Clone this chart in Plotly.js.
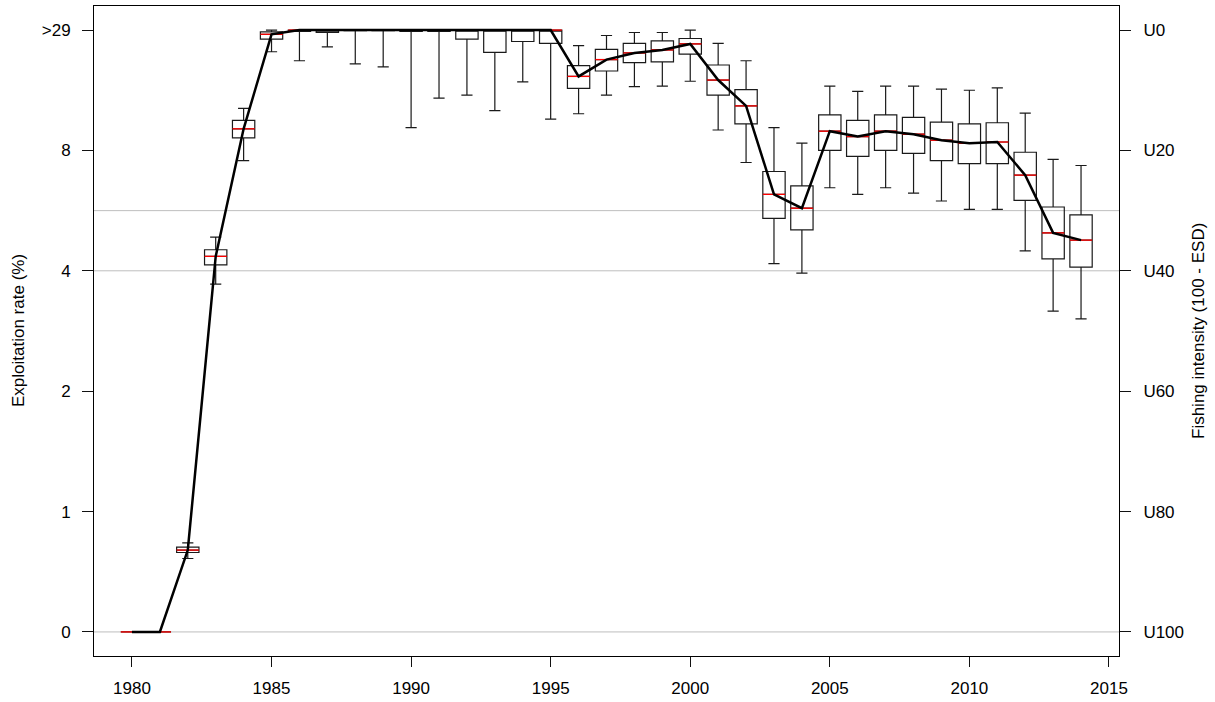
<!DOCTYPE html>
<html>
<head>
<meta charset="utf-8">
<script src="https://cdn.plot.ly/plotly-3.0.1.min.js"></script>
<style>
html,body{margin:0;padding:0;background:#fff;}
#chart{width:1215px;height:702px;}
</style>
</head>
<body>
<div id="chart"></div>
<script>
// Years (one box per year)
const years = [1980,1981,1982,1983,1984,1985,1986,1987,1988,1989,1990,1991,1992,1993,1994,1995,1996,1997,1998,1999,2000,2001,2002,2003,2004,2005,2006,2007,2008,2009,2010,2011,2012,2013,2014];

// Values on the fishing-intensity scale (0 = U100 ... 100 = U0)
const lowerWhisker = [0,0,12.2,57.8,78.3,96.4,94.9,97.2,94.4,93.9,83.8,88.7,89.2,86.6,91.4,85.2,86.1,89.2,90.6,90.7,91.5,83.4,78.0,61.2,59.6,73.8,72.7,73.8,72.9,71.6,70.2,70.2,63.3,53.3,52.0];
const q1 = [0,0,13.2,61.0,82.1,98.5,99.8,99.6,99.9,99.9,99.8,99.8,98.5,96.3,98.1,97.8,90.3,93.2,94.6,94.7,96.0,89.2,84.4,68.7,66.8,80.0,79.0,80.0,79.5,78.3,77.8,77.8,71.7,62.0,60.6];
const median = [0,0,13.6,62.4,83.6,99.3,100,100,100,100,100,100,100,100,100,100,92.3,95.1,96.2,96.7,97.7,91.7,87.4,72.7,70.4,83.2,82.3,83.2,82.7,81.7,81.2,81.4,75.9,66.3,65.1];
const q3 = [0,0,14.1,63.5,85.0,99.7,100,100,100,100,100,100,100,100,100,100,94.1,96.8,97.8,98.2,98.6,94.2,90.1,76.5,74.1,85.9,85.0,85.9,85.5,84.7,84.4,84.6,79.7,70.6,69.3];
const upperWhisker = [0,0,14.8,65.6,87.0,100,100,100,100,100,100,100,100,100,100,100,97.4,99.1,99.6,99.6,100,97.8,94.9,83.8,81.2,90.7,89.8,90.7,90.7,90.2,90.0,90.4,86.2,78.5,77.5];
// Point estimate (black line)
const estimate = [0,0,13.6,62.4,83.6,99.3,100,100,100,100,100,100,100,100,100,100,92.3,95.1,96.2,96.7,97.7,91.7,87.4,72.7,70.4,83.2,82.3,83.2,82.7,81.7,81.2,81.4,75.9,66.3,65.1];

// Tick labels
const xTickVals = [1980,1985,1990,1995,2000,2005,2010,2015];
const yTickVals = [0,20,40,60,80,100];
const leftTickText = ['0','1','2','4','8','>29'];
const rightTickText = ['U100','U80','U60','U40','U20','U0'];
// Grey reference lines (U100, U40, U30)
const refLines = [0,60,70];

const BOX_W = 0.8;

// Red median segments
const medX = [], medY = [];
years.forEach((yr,i)=>{
  medX.push(yr - BOX_W/2, yr + BOX_W/2, null);
  medY.push(median[i], median[i], null);
});

const FONT = 'Liberation Sans, Arial, Helvetica, sans-serif';

const traces = [
  {
    type:'box',
    x: years,
    q1: q1,
    median: median,
    q3: q3,
    lowerfence: lowerWhisker,
    upperfence: upperWhisker,
    width: BOX_W,
    whiskerwidth: 0.5,
    boxpoints: false,
    line:{color:'#1a1a1a', width:1.2},
    fillcolor:'rgba(0,0,0,0)',
    hoverinfo:'skip',
    showlegend:false
  },
  {
    type:'scatter', mode:'lines',
    x: medX, y: medY,
    line:{color:'#ff0000', width:1.3},
    connectgaps:false,
    hoverinfo:'skip', showlegend:false
  },
  {
    type:'scatter', mode:'lines',
    x: years, y: estimate,
    line:{color:'#000', width:2.5},
    hoverinfo:'skip', showlegend:false
  },
  {
    type:'scatter', mode:'markers',
    x:[years[0]], y:[refLines[0]],
    yaxis:'y2',
    marker:{opacity:0},
    hoverinfo:'skip', showlegend:false
  }
];

const layout = {
  width:1215, height:702,
  margin:{l:94, r:96, t:6, b:46, pad:0},
  paper_bgcolor:'#fff', plot_bgcolor:'#fff',
  font:{family:FONT, size:17, color:'#000'},
  showlegend:false,
  xaxis:{
    range:[1978.64, 2015.36],
    tickmode:'array', tickvals:xTickVals,
    ticks:'outside', ticklen:10, tickwidth:1, tickcolor:'#111',
    ticklabelstandoff:7,
    showline:true, mirror:true, linecolor:'#000', linewidth:1,
    showgrid:false, zeroline:false,
    tickfont:{family:FONT, size:17, color:'#000'}
  },
  yaxis:{
    range:[-4,104],
    tickmode:'array', tickvals:yTickVals, ticktext:leftTickText,
    ticks:'outside', ticklen:11, tickwidth:1, tickcolor:'#111',
    ticklabelstandoff:8,
    showline:true, mirror:true, linecolor:'#000', linewidth:1,
    showgrid:false, zeroline:false,
    tickfont:{family:FONT, size:17, color:'#000'}
  },
  yaxis2:{
    overlaying:'y', side:'right',
    range:[-4,104],
    tickmode:'array', tickvals:yTickVals, ticktext:rightTickText,
    ticks:'outside', ticklen:11, tickwidth:1, tickcolor:'#111',
    ticklabelstandoff:9,
    showline:false, showgrid:false, zeroline:false,
    tickfont:{family:FONT, size:17, color:'#000'}
  },
  shapes: refLines.map(v=>({
    type:'line', xref:'paper', x0:0, x1:1, yref:'y', y0:v, y1:v,
    line:{color:'#bebebe', width:1}, layer:'below'
  })),
  annotations:[
    {
      text:'Exploitation rate (%)',
      xref:'paper', yref:'paper', x:0, y:0.5, xshift:-76,
      xanchor:'center', yanchor:'middle', textangle:-90, showarrow:false,
      font:{family:FONT, size:17, color:'#000'}
    },
    {
      text:'Fishing intensity (100 - ESD)',
      xref:'paper', yref:'paper', x:1, y:0.5, xshift:79,
      xanchor:'center', yanchor:'middle', textangle:-90, showarrow:false,
      font:{family:FONT, size:17, color:'#000'}
    }
  ]
};

Plotly.newPlot('chart', traces, layout, {staticPlot:true, displayModeBar:false});
</script>
</body>
</html>
